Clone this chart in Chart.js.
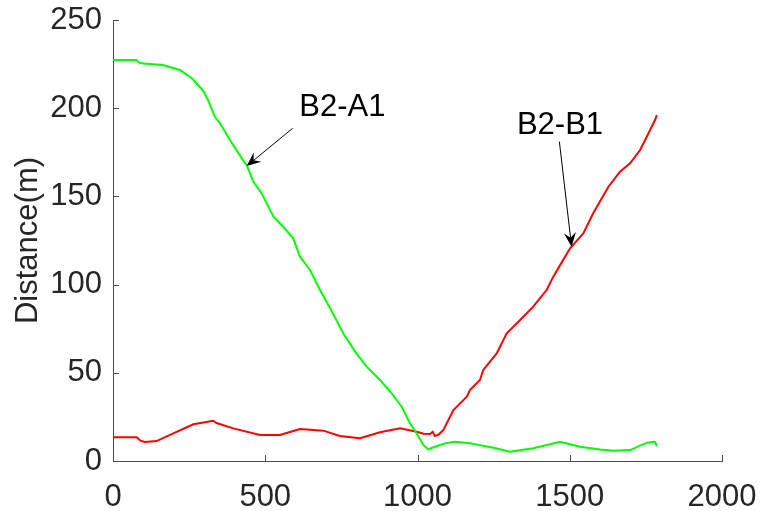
<!DOCTYPE html>
<html>
<head>
<meta charset="utf-8">
<script src="https://cdn.jsdelivr.net/npm/chart.js@4/dist/chart.umd.min.js"></script>
<style>
html,body{margin:0;padding:0;background:#fff;}
#wrap{width:760px;height:511px;}
</style>
</head>
<body>
<div id="wrap"><canvas id="c" width="760" height="511"></canvas></div>
<script>
// ---- data ----
const xTicks = [0, 500, 1000, 1500, 2000];
const yTicks = [0, 50, 100, 150, 200, 250];

const a1X = [0, 78, 85, 100, 164, 220, 259, 296, 312, 335, 351, 384, 427, 439, 461, 488, 527, 559, 592, 614, 647, 680, 713, 756, 795, 833, 877, 915, 948, 975, 997, 1019, 1035, 1057, 1090, 1123, 1172, 1205, 1250, 1304, 1380, 1468, 1534, 1600, 1643, 1698, 1753, 1780, 1786];
const a1Y = [227.3, 227.3, 225.8, 225.4, 224.5, 221.7, 217, 210, 204.6, 195, 191.6, 182, 170.6, 167.8, 158.3, 151.8, 138.5, 132.8, 126.2, 115.8, 108.3, 96.9, 86.6, 72.4, 62, 53.5, 45.9, 38.4, 30.8, 21.4, 15.7, 9.1, 6.6, 8.1, 10, 10.9, 10, 9.0, 7.5, 5.3, 7.2, 10.9, 8.1, 6.5, 5.8, 6.2, 10.4, 10.9, 8.5];

const b1X = [0, 78, 90, 105, 143, 198, 264, 329, 340, 395, 483, 548, 614, 658, 691, 745, 811, 877, 943, 997, 1020, 1041, 1050, 1057, 1070, 1085, 1118, 1162, 1172, 1205, 1216, 1260, 1293, 1337, 1380, 1424, 1446, 1462, 1501, 1545, 1577, 1627, 1665, 1698, 1731, 1753, 1780, 1786];
const b1Y = [13.4, 13.4, 11.5, 10.8, 11.3, 15.7, 20.8, 22.8, 21.5, 18.5, 14.7, 14.7, 18.1, 17.6, 17.2, 14.2, 12.9, 16.3, 18.5, 16.6, 15.5, 15.3, 16.5, 14.2, 15, 17.6, 28.9, 36.5, 40.2, 45.9, 51.6, 61, 72.4, 79.9, 87.5, 96.9, 104.5, 109.2, 120.6, 129.1, 140.4, 155.5, 164, 168.8, 176.3, 183.8, 193.3, 196.1];

const seriesNames = ['B2-A1', 'B2-B1'];
// annotation anchors in data units: text centre, arrow start, arrow tip
const annText = [[753, 200.4], [1468, 190.5]];
const annFrom = [[590, 188.6], [1466, 181]];
const annTip  = [[439, 167.2], [1506, 121.5]];

const yTitle = 'Distance(m)';

// ---- build chart ----
const toPts = (xs, ys) => xs.map((x, i) => ({x: x, y: ys[i]}));
const FONT = '"Liberation Sans", Arial, sans-serif';
const TXT = '#262626';
const AX = '#4d4d4d';

const innerTicks = {
  id: 'innerTicks',
  afterDraw(chart) {
    const ctx = chart.ctx, xs = chart.scales.x, ys = chart.scales.y, ca = chart.chartArea;
    ctx.save();
    ctx.strokeStyle = AX; ctx.lineWidth = 1;
    ctx.beginPath();
    xTicks.forEach(v => { const p = Math.round(xs.getPixelForValue(v)) + 0.5; ctx.moveTo(p, ca.bottom); ctx.lineTo(p, ca.bottom - 6); });
    yTicks.forEach(v => { const p = Math.round(ys.getPixelForValue(v)) + 0.5; ctx.moveTo(ca.left, p); ctx.lineTo(ca.left + 6, p); });
    ctx.stroke();
    // annotations
    ctx.fillStyle = '#000'; ctx.strokeStyle = '#000';
    ctx.font = '31px ' + FONT; ctx.textAlign = 'center'; ctx.textBaseline = 'middle';
    seriesNames.forEach((name, i) => {
      const tx = xs.getPixelForValue(annText[i][0]), ty = ys.getPixelForValue(annText[i][1]);
      ctx.fillText(name, tx, ty);
      const fx = xs.getPixelForValue(annFrom[i][0]), fy = ys.getPixelForValue(annFrom[i][1]);
      const px = xs.getPixelForValue(annTip[i][0]), py = ys.getPixelForValue(annTip[i][1]);
      const ang = Math.atan2(py - fy, px - fx);
      const L = 14, W = 6, N = 9;
      const bx = px - L * Math.cos(ang), by = py - L * Math.sin(ang);
      const nx = px - N * Math.cos(ang), ny = py - N * Math.sin(ang);
      ctx.lineWidth = 1;
      ctx.beginPath(); ctx.moveTo(fx, fy); ctx.lineTo(nx, ny); ctx.stroke();
      ctx.beginPath();
      ctx.moveTo(px, py);
      ctx.lineTo(bx + W * Math.sin(ang), by - W * Math.cos(ang));
      ctx.lineTo(nx, ny);
      ctx.lineTo(bx - W * Math.sin(ang), by + W * Math.cos(ang));
      ctx.closePath(); ctx.fill();
    });
    ctx.restore();
  }
};

new Chart(document.getElementById('c'), {
  type: 'scatter',
  data: {
    datasets: [
      {label: seriesNames[0], data: toPts(a1X, a1Y), showLine: true, borderColor: '#00ff00', borderWidth: 2, pointRadius: 0, tension: 0, fill: false},
      {label: seriesNames[1], data: toPts(b1X, b1Y), showLine: true, borderColor: '#ff0000', borderWidth: 2, pointRadius: 0, tension: 0, fill: false}
    ]
  },
  options: {
    responsive: false,
    animation: false,
    events: [],
    layout: {padding: {left: 0, right: 38, top: 20, bottom: 0}},
    plugins: {legend: {display: false}, tooltip: {enabled: false}},
    scales: {
      x: {
        type: 'linear', min: 0, max: 2000,
        afterBuildTicks: s => { s.ticks = xTicks.map(v => ({value: v})); },
        afterFit: s => { s.height = 50; s.paddingLeft = 0; s.paddingRight = 0; },
        grid: {display: true, drawOnChartArea: false, drawTicks: false},
        border: {display: true, color: AX, width: 1},
        ticks: {color: TXT, font: {family: FONT, size: 31}, padding: 18, maxRotation: 0, callback: v => String(v)}
      },
      y: {
        type: 'linear', min: 0, max: 250,
        afterBuildTicks: s => { s.ticks = yTicks.map(v => ({value: v})); },
        afterFit: s => { s.width = 113; s.paddingTop = 0; s.paddingBottom = 0; },
        grid: {display: true, drawOnChartArea: false, drawTicks: false},
        border: {display: true, color: AX, width: 1},
        title: {display: true, text: yTitle, color: TXT, font: {family: FONT, size: 31}, padding: {top: 10, bottom: 0}},
        ticks: {color: TXT, font: {family: FONT, size: 31}, padding: 11, callback: v => String(v)}
      }
    }
  },
  plugins: [innerTicks]
});
</script>
</body>
</html>
